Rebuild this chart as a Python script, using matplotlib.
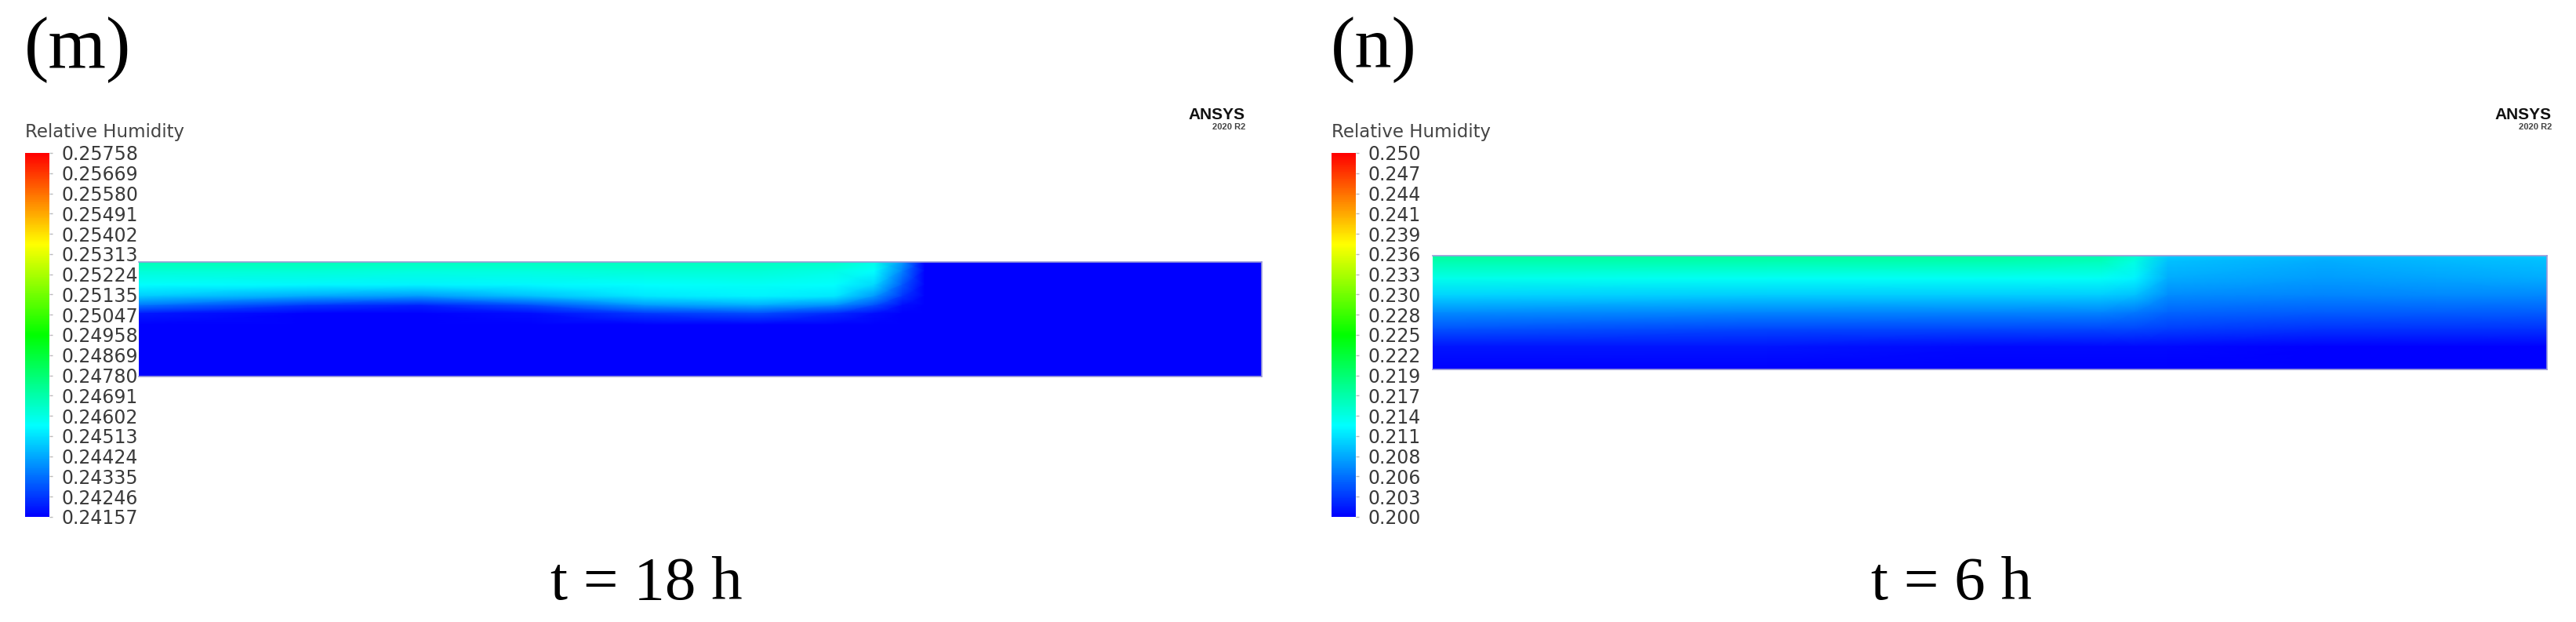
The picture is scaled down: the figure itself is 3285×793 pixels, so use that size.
import numpy as np
import matplotlib
matplotlib.use("Agg")
import matplotlib.pyplot as plt
from matplotlib.colors import LinearSegmentedColormap, Normalize

W, H, DPI = 3285, 793, 100

# ---------------- data ----------------
panel_labels = ["(m)", "(n)"]
time_labels = ["t = 18 h", "t = 6 h"]
cbar_title = "Relative Humidity"

ticks_m = ["0.25758", "0.25669", "0.25580", "0.25491", "0.25402", "0.25313", "0.25224",
           "0.25135", "0.25047", "0.24958", "0.24869", "0.24780", "0.24691", "0.24602",
           "0.24513", "0.24424", "0.24335", "0.24246", "0.24157"]
ticks_n = ["0.250", "0.247", "0.244", "0.241", "0.239", "0.236", "0.233", "0.230",
           "0.228", "0.225", "0.222", "0.219", "0.217", "0.214", "0.211", "0.208",
           "0.206", "0.203", "0.200"]
vmin_m, vmax_m = 0.24157, 0.25758
vmin_n, vmax_n = 0.200, 0.250

# field (m): sample columns (fraction of length) and rows (fraction of depth from top)
x_m = [0.00, 0.15, 0.25, 0.35, 0.45, 0.55, 0.62, 0.655, 0.68, 0.70, 1.00]
d_m = [0.00, 0.08, 0.20, 0.30, 0.38, 0.45, 0.55, 1.00]
rh_m = [
    [0.2467, 0.2467, 0.2466, 0.2466, 0.2466, 0.2466, 0.2465, 0.2460, 0.2440, 0.24157, 0.24157],
    [0.2462, 0.2462, 0.2461, 0.2461, 0.2462, 0.2462, 0.2460, 0.2456, 0.2436, 0.24157, 0.24157],
    [0.2456, 0.2455, 0.2454, 0.2455, 0.2456, 0.2457, 0.2456, 0.2450, 0.2430, 0.24157, 0.24157],
    [0.2448, 0.2442, 0.2440, 0.2446, 0.2452, 0.2454, 0.2452, 0.2440, 0.2424, 0.24157, 0.24157],
    [0.2434, 0.2424, 0.2421, 0.2428, 0.2440, 0.2443, 0.2438, 0.2428, 0.2418, 0.24157, 0.24157],
    [0.2420, 0.24157, 0.24157, 0.2418, 0.2425, 0.2428, 0.2422, 0.2418, 0.24157, 0.24157, 0.24157],
    [0.24157] * 11,
    [0.24157] * 11,
]

# field (n)
x_n = [0.00, 0.30, 0.50, 0.60, 0.63, 0.66, 0.80, 0.90, 1.00]
d_n = [0.00, 0.05, 0.20, 0.35, 0.50, 0.65, 0.80, 1.00]
rh_n = [
    [0.2170, 0.2170, 0.2170, 0.2165, 0.2150, 0.2100, 0.2090, 0.2095, 0.2100],
    [0.2165, 0.2165, 0.2165, 0.2160, 0.2140, 0.2095, 0.2085, 0.2090, 0.2095],
    [0.2135, 0.2130, 0.2130, 0.2130, 0.2120, 0.2085, 0.2078, 0.2082, 0.2085],
    [0.2105, 0.2100, 0.2100, 0.2100, 0.2095, 0.2070, 0.2065, 0.2068, 0.2068],
    [0.2070, 0.2065, 0.2065, 0.2065, 0.2060, 0.2050, 0.2045, 0.2045, 0.2045],
    [0.2040, 0.2035, 0.2035, 0.2035, 0.2035, 0.2030, 0.2025, 0.2025, 0.2025],
    [0.2010, 0.2010, 0.2005, 0.2005, 0.2005, 0.2005, 0.2000, 0.2000, 0.2000],
    [0.2000] * 9,
]

# ---------------- style ----------------
ansys = LinearSegmentedColormap.from_list(
    "ansys", [(0.0, "#0000ff"), (0.25, "#00ffff"), (0.5, "#00ff00"),
              (0.75, "#ffff00"), (1.0, "#ff0000")])

fig = plt.figure(figsize=(W / DPI, H / DPI), dpi=DPI)
fig.patch.set_facecolor("white")


def px_axes(x0, y0, x1, y1):
    return fig.add_axes([x0 / W, 1 - y1 / H, (x1 - x0) / W, (y1 - y0) / H])


panels = [
    dict(off=0, field=(177, 334, 1609, 480), x=x_m, d=d_m, rh=rh_m,
         vmin=vmin_m, vmax=vmax_m, ticks=ticks_m, tlabel=time_labels[0],
         plabel=panel_labels[0], tx=824),
    dict(off=1666, field=(1827, 326, 3248, 471), x=x_n, d=d_n, rh=rh_n,
         vmin=vmin_n, vmax=vmax_n, ticks=ticks_n, tlabel=time_labels[1],
         plabel=panel_labels[1], tx=2488),
]

for p in panels:
    o = p["off"]
    norm = Normalize(p["vmin"], p["vmax"])
    # contour field
    fx0, fy0, fx1, fy1 = p["field"]
    ax = px_axes(fx0, fy0, fx1, fy1)
    X, Y = np.meshgrid(p["x"], p["d"])
    mesh = ax.pcolormesh(X, Y, np.array(p["rh"]), cmap=ansys, norm=norm,
                         shading="gouraud", rasterized=True)
    ax.set_xlim(0, 1)
    ax.set_ylim(1, 0)
    ax.set_xticks([])
    ax.set_yticks([])
    for s in ax.spines.values():
        s.set_color("#9a9ad8")
        s.set_linewidth(1.2)
    ax.spines["left"].set_visible(False)

    # colorbar
    cax = px_axes(32 + o, 195, 63 + o, 659)
    cb = fig.colorbar(mesh, cax=cax)
    cb.outline.set_visible(False)
    n = len(p["ticks"])
    cb.set_ticks(np.linspace(p["vmax"], p["vmin"], n))
    cb.set_ticklabels(p["ticks"])
    cax.tick_params(axis="y", length=3, width=1, color="#bbbbbb", pad=8,
                    labelsize=17, labelcolor="#3a3a3a")
    for lab in cax.get_yticklabels():
        lab.set_fontfamily("DejaVu Sans")

    fig.text((32 + o) / W, 1 - 168 / H, cbar_title, fontsize=16.5, color="#444444",
             family="DejaVu Sans", ha="left", va="center")

    # panel label
    fig.text((31 + o) / W, 1 - 64 / H, p["plabel"], fontsize=68,
             family="Liberation Serif", ha="left", va="center", color="black")

    # logo
    fig.text((1588 + o) / W, 1 - 146 / H, "ANSYS", fontsize=15, fontweight="bold",
             family="Liberation Sans", ha="right", va="center", color="#111111")
    fig.text((1588 + o) / W, 1 - 162 / H, "2020 R2", fontsize=8, fontweight="bold",
             family="Liberation Sans", ha="right", va="center", color="#444444")

    # time label
    fig.text(p["tx"] / W, 1 - 764 / H, p["tlabel"], fontsize=57,
             family="Liberation Serif", ha="center", va="baseline", color="black")

fig.savefig("out.png", dpi=DPI, facecolor="white")
